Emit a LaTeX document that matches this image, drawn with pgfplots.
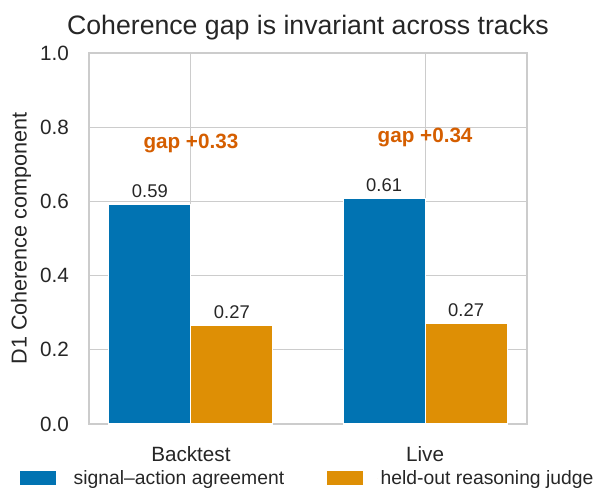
\documentclass[border=0pt]{standalone}
\usepackage{pgfplots}
\pgfplotsset{compat=1.18}
\usepackage{fontspec}
\setmainfont{Liberation Sans}
\definecolor{sbblue}{HTML}{0173B2}
\definecolor{sborange}{HTML}{DE8F05}
\definecolor{gapcol}{HTML}{D55E00}
\definecolor{txt}{HTML}{262626}
\definecolor{gridc}{HTML}{CCCCCC}
\begin{document}
\begin{tikzpicture}
\begin{axis}[
    name=ax,
    width=328.5pt, height=278.25pt, scale only axis,
    xmin=-0.435, xmax=1.435, ymin=0, ymax=1.0,
    xtick={0,1}, xticklabels={Backtest,Live},
    ytick={0,0.2,0.4,0.6,0.8,1.0},
    yticklabel style={/pgf/number format/fixed,/pgf/number format/fixed zerofill,
      /pgf/number format/precision=1,xshift=-11.5pt},
    /pgf/number format/assume math mode=true,
    major tick length=0pt,
    grid=major, grid style={gridc,line width=0.9pt},
    axis line style={gridc,line width=1.1pt},
    tick label style={font=\fontsize{15.5}{18}\selectfont,text=txt},
    xticklabel style={yshift=-13.5pt},
    ylabel={D1 Coherence component},
    ylabel style={font=\fontsize{16.2}{18}\selectfont,text=txt},
    title={Coherence gap is invariant across tracks},
    title style={font=\fontsize{20}{22}\selectfont,text=txt,yshift=0.5pt},
    ybar, bar width=0.35,
    nodes near coords,
    nodes near coords style={font=\fontsize{13.8}{16}\selectfont,text=txt,yshift=1.5pt,
      /pgf/number format/fixed,/pgf/number format/fixed zerofill,
      /pgf/number format/precision=2},
    legend style={at={(0.5,-0.1456)},anchor=center,legend columns=2,draw=none,
      font=\fontsize{14.5}{17}\selectfont,text=txt,fill=none,
      /tikz/every even column/.append style={column sep=30pt}},
    legend image code/.code={\path (0pt,0pt) -- (37.5pt,0pt);
      \fill[#1,draw=none] (0pt,-5.1pt) rectangle (27pt,5.1pt);},
]
  \addplot[fill=sbblue,draw=white,line width=0.8pt,bar shift=-0.175]
    coordinates {(0,0.592) (1,0.608)};
  \addplot[fill=sborange,draw=white,line width=0.8pt,bar shift=0.175]
    coordinates {(0,0.266) (1,0.270)};
  \legend{signal–action agreement, held-out reasoning judge}
  \node[text=gapcol,font=\bfseries\fontsize{15.5}{18}\selectfont] at (axis cs:0,0.755) {gap +0.33};
  \node[text=gapcol,font=\bfseries\fontsize{15.5}{18}\selectfont] at (axis cs:1,0.771) {gap +0.34};
\end{axis}
\pgfresetboundingbox
\path[use as bounding box] ([shift={(-66.75pt,-48.75pt)}]ax.south west)
  rectangle ([shift={(381.75pt,318pt)}]ax.south west);
\end{tikzpicture}
\end{document}
